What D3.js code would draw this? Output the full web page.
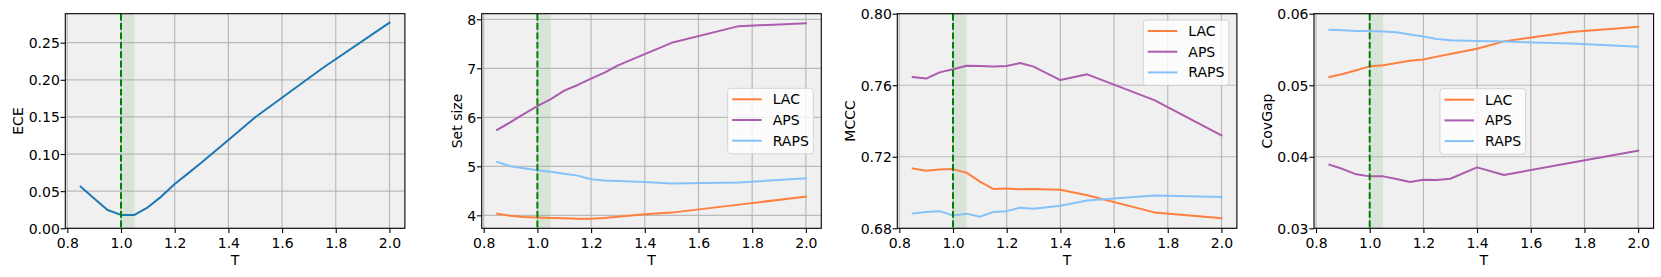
<!DOCTYPE html>
<html>
<head>
<meta charset="utf-8">
<script src="https://cdn.jsdelivr.net/npm/d3@7"></script>
<style>
  html, body { margin: 0; padding: 0; background: #ffffff; }
  svg { display: block; }
  text { font-family: "DejaVu Sans", sans-serif; font-size: 14px; fill: #000; }
</style>
</head>
<body>
<svg id="chart" width="1661" height="277"></svg>
<script>
// ---------- data ----------
const T = [0.85, 0.9, 0.95, 1.0, 1.05, 1.1, 1.15, 1.2, 1.25, 1.3, 1.4, 1.5, 1.75, 2.0];

const eceValues = [0.0561, 0.040, 0.0247, 0.018, 0.018, 0.0283, 0.0427, 0.0597, 0.074, 0.0885, 0.119, 0.1495, 0.2155, 0.277];

const setSizeLAC  = [4.034, 3.99, 3.966, 3.953, 3.946, 3.94, 3.932, 3.932, 3.946, 3.973, 4.02, 4.055, 4.218, 4.38];
const setSizeAPS  = [5.742, 5.90, 6.07, 6.23, 6.37, 6.544, 6.66, 6.79, 6.91, 7.06, 7.29, 7.52, 7.86, 7.92];
const setSizeRAPS = [5.09, 5.0, 4.96, 4.92, 4.89, 4.85, 4.81, 4.735, 4.71, 4.70, 4.68, 4.65, 4.67, 4.755];

const mcccLAC  = [0.7135, 0.7122, 0.7129, 0.7131, 0.7111, 0.7061, 0.702, 0.7023, 0.7018, 0.702, 0.7016, 0.6985, 0.6889, 0.6857];
const mcccAPS  = [0.7646, 0.7637, 0.7672, 0.7689, 0.7709, 0.7707, 0.7705, 0.7707, 0.7724, 0.7704, 0.7629, 0.7661, 0.7517, 0.732];
const mcccRAPS = [0.6883, 0.6891, 0.6896, 0.6872, 0.6882, 0.6865, 0.6891, 0.6896, 0.6915, 0.6909, 0.6926, 0.6956, 0.6984, 0.6975];

const covGapLAC  = [0.05115, 0.05157, 0.0521, 0.05264, 0.0528, 0.0531, 0.05343, 0.0536, 0.054, 0.05436, 0.0551, 0.05613, 0.05744, 0.05818];
const covGapAPS  = [0.0389, 0.03828, 0.03754, 0.03726, 0.03726, 0.03689, 0.03647, 0.0368, 0.03675, 0.03693, 0.03852, 0.03745, 0.03917, 0.04085];
const covGapRAPS = [0.05776, 0.05767, 0.05758, 0.05758, 0.0575, 0.0574, 0.0571, 0.0568, 0.05646, 0.0563, 0.0562, 0.0561, 0.05585, 0.05539];

const xTicks = [0.8, 1.0, 1.2, 1.4, 1.6, 1.8, 2.0];
const eceTicks = [0.00, 0.05, 0.10, 0.15, 0.20, 0.25];
const setSizeTicks = [4, 5, 6, 7, 8];
const mcccTicks = [0.68, 0.72, 0.76, 0.80];
const covGapTicks = [0.03, 0.04, 0.05, 0.06];

const methodNames = ["LAC", "APS", "RAPS"];
const methodColors = ["#ff7f3f", "#ab5cae", "#86c1fa"];

const optimalT = 1.0;
const spanT = [1.0, 1.05];

// ---------- layout ----------
const axW = 339.6, axH = 214.6, axTop = 13.7;
const panels = [
  { left: 65.3,  ylabel: "ECE",      domain: [0, 0.289],     ticks: eceTicks,     fmt: d3.format(".2f"),
    series: [{ values: eceValues, color: "#1f77b4" }], legend: null },
  { left: 481.7, ylabel: "Set size", domain: [3.735, 8.114], ticks: setSizeTicks, fmt: d3.format("d"),
    series: [setSizeLAC, setSizeAPS, setSizeRAPS].map((v, i) => ({ values: v, color: methodColors[i], name: methodNames[i] })),
    legend: { x: 246, y: 74.6 } },
  { left: 897.3, ylabel: "MCCC",     domain: [0.68, 0.80],   ticks: mcccTicks,    fmt: d3.format(".2f"),
    series: [mcccLAC, mcccAPS, mcccRAPS].map((v, i) => ({ values: v, color: methodColors[i], name: methodNames[i] })),
    legend: { x: 246, y: 6.3 } },
  { left: 1314.0, ylabel: "CovGap",  domain: [0.03, 0.06],   ticks: covGapTicks,  fmt: d3.format(".2f"),
    series: [covGapLAC, covGapAPS, covGapRAPS].map((v, i) => ({ values: v, color: methodColors[i], name: methodNames[i] })),
    legend: { x: 126, y: 75 } }
];

const svg = d3.select("#chart");

panels.forEach((p, pi) => {
  const g = svg.append("g").attr("transform", `translate(${p.left},${axTop})`);
  const x = d3.scaleLinear().domain([0.7925, 2.0575]).range([0, axW]);
  const y = d3.scaleLinear().domain(p.domain).range([axH, 0]);

  const clipId = "clip" + pi;
  g.append("clipPath").attr("id", clipId).append("rect").attr("width", axW).attr("height", axH);

  // background
  g.append("rect").attr("width", axW).attr("height", axH).attr("fill", "#f0f0f0");

  // green span
  g.append("rect")
    .attr("x", x(spanT[0])).attr("width", x(spanT[1]) - x(spanT[0]))
    .attr("y", 0).attr("height", axH)
    .attr("fill", "#008000").attr("fill-opacity", 0.1);

  // grid
  const grid = g.append("g").attr("clip-path", `url(#${clipId})`);
  grid.selectAll("line.vx").data(xTicks).join("line")
    .attr("x1", d => x(d)).attr("x2", d => x(d)).attr("y1", 0).attr("y2", axH)
    .attr("stroke", "#b0b0b0").attr("stroke-width", 1.2).attr("stroke-opacity", 0.85);
  grid.selectAll("line.hy").data(p.ticks).join("line")
    .attr("y1", d => y(d)).attr("y2", d => y(d)).attr("x1", 0).attr("x2", axW)
    .attr("stroke", "#b0b0b0").attr("stroke-width", 1.2).attr("stroke-opacity", 0.85);

  // series
  const line = d3.line().x((d, i) => x(T[i])).y(d => y(d));
  const plot = g.append("g").attr("clip-path", `url(#${clipId})`);
  p.series.forEach(s => {
    plot.append("path").datum(s.values)
      .attr("d", line).attr("fill", "none")
      .attr("stroke", s.color).attr("stroke-width", 2)
      .attr("stroke-linejoin", "round").attr("stroke-linecap", "square");
  });

  // optimal T dashed line
  g.append("line")
    .attr("x1", x(optimalT)).attr("x2", x(optimalT)).attr("y1", 0).attr("y2", axH)
    .attr("stroke", "#008000").attr("stroke-width", 2).attr("stroke-dasharray", "6.7,2.7");

  // spines
  g.append("rect").attr("width", axW).attr("height", axH)
    .attr("fill", "none").attr("stroke", "#000").attr("stroke-width", 1.1);

  // x axis
  const xAxis = d3.axisBottom(x).tickValues(xTicks).tickFormat(d3.format(".1f")).tickSize(4.7).tickPadding(5);
  const xg = g.append("g").attr("transform", `translate(0,${axH})`).call(xAxis);
  xg.select(".domain").remove();
  xg.selectAll(".tick line").attr("stroke", "#000").attr("stroke-width", 1.1);
  xg.selectAll(".tick text").attr("font-size", null).attr("font-family", null)
    .attr("y", 20).attr("dy", null).style("fill", "#000");

  // y axis
  const yAxis = d3.axisLeft(y).tickValues(p.ticks).tickFormat(p.fmt).tickSize(4.7).tickPadding(1);
  const yg = g.append("g").call(yAxis);
  yg.select(".domain").remove();
  yg.selectAll(".tick line").attr("stroke", "#000").attr("stroke-width", 1.1);
  yg.selectAll(".tick text").attr("font-size", null).attr("font-family", null)
    .attr("x", -5.5).attr("dy", "0.36em").style("fill", "#000");

  // axis labels
  g.append("text").attr("x", axW / 2).attr("y", axH + 37.2).attr("text-anchor", "middle").text("T");
  const bb = yg.node().getBBox();
  const lx = bb.x - 5.5;
  g.append("text").attr("transform", `translate(${lx},${axH / 2}) rotate(-90)`)
    .attr("text-anchor", "middle").text(p.ylabel);

  // legend
  if (p.legend) {
    const lg = g.append("g").attr("transform", `translate(${p.legend.x},${p.legend.y})`);
    lg.append("rect").attr("width", 85.6).attr("height", 65.4).attr("rx", 3).attr("ry", 3)
      .attr("fill", "#ffffff").attr("fill-opacity", 0.8)
      .attr("stroke", "#cccccc").attr("stroke-opacity", 0.8).attr("stroke-width", 1);
    p.series.forEach((s, i) => {
      const cy = 11 + i * 20.7;
      lg.append("line").attr("x1", 4.5).attr("x2", 34).attr("y1", cy).attr("y2", cy)
        .attr("stroke", s.color).attr("stroke-width", 2);
      lg.append("text").attr("x", 45).attr("y", cy + 5).text(s.name);
    });
  }
});
</script>
</body>
</html>
